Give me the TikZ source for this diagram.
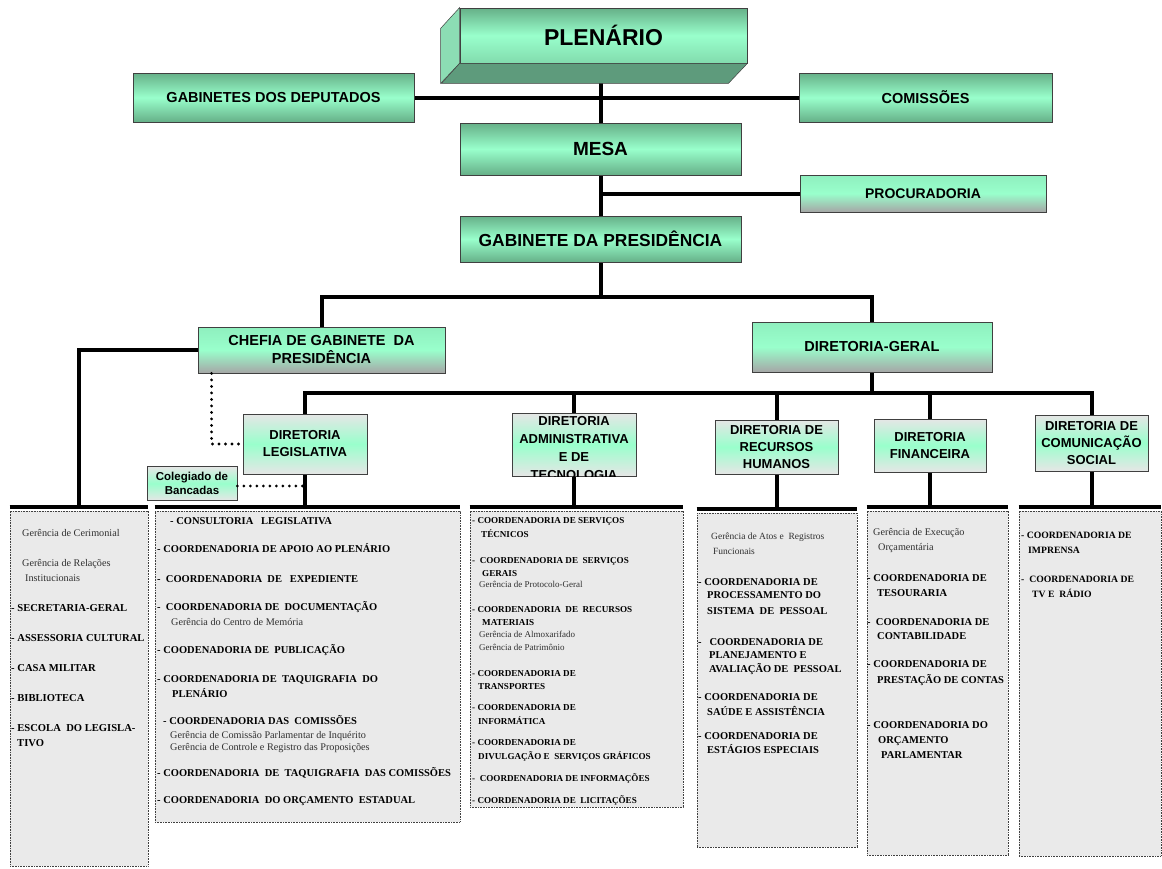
\documentclass[tikz,border=0pt]{standalone}
\usepackage{fontspec}
\setmainfont{Liberation Serif}
\newfontfamily\arialf{Liberation Sans}
\usetikzlibrary{calc}
\pgfdeclarelayer{bg}
\pgfsetlayers{bg,main}
\definecolor{mint}{HTML}{99FFCC}
\definecolor{gdark}{HTML}{66B088}
\definecolor{colfill}{HTML}{EAEAEA}
\definecolor{plside}{HTML}{8CDDB4}
\definecolor{plbot}{HTML}{5E9B7C}
\definecolor{gry}{HTML}{A6A6A6}
\definecolor{lgry}{HTML}{E6E6E6}
\definecolor{edge}{HTML}{404040}
\definecolor{smtext}{HTML}{303030}
\tikzset{
  conn/.style={line width=4pt, black},
  dotconn/.style={line width=3.1pt, line cap=round, dash pattern=on 0pt off 6.5pt},
  bf/.style 2 args={font=\arialf\bfseries\fontsize{#1}{#2}\selectfont},
  gbox/.style={draw=edge, line width=0.8pt, top color=gdark, bottom color=gdark, middle color=mint, inner sep=0pt, align=center},
  gybox/.style={draw=edge, line width=0.8pt, top color=mint!80!gdark, bottom color=gry, middle color=mint, inner sep=0pt, align=center},
  dbox/.style={draw=edge, line width=0.8pt, top color=lgry, bottom color=lgry, middle color=mint, inner sep=0pt, align=center},
  colbox/.style={draw=black!75, line width=0.7pt, dash pattern=on 0.8pt off 0.8pt, fill=colfill, inner sep=0pt},
  lb/.style={anchor=base west, inner sep=0pt, yshift=-3.5pt, font=\bfseries\fontsize{10.5}{12}\selectfont},
  lbC/.style={anchor=base west, inner sep=0pt, yshift=-3.3pt, font=\bfseries\fontsize{9.7}{12}\selectfont},
  lbL/.style={anchor=base west, inner sep=0pt, yshift=-3.5pt, font=\bfseries\fontsize{10.6}{12}\selectfont},
  ls/.style={anchor=base west, inner sep=0pt, yshift=-3.2pt, text=smtext, font=\fontsize{10.2}{12}\selectfont},
  lsR/.style={ls, font=\fontsize{9.5}{12}\selectfont},
  lbA/.style={anchor=base west, inner sep=0pt, yshift=-3.1pt, font=\bfseries\fontsize{9.1}{10}\selectfont},
  lsA/.style={anchor=base west, inner sep=0pt, yshift=-2.9pt, text=smtext, font=\fontsize{9}{10}\selectfont},
}
\begin{document}
\begin{tikzpicture}[x=1pt,y=-1pt]
\useasboundingbox (0,0) rectangle (1162,868);

% ---- top boxes
\node[gbox, top color=gdark, bottom color=gdark!45!mint, middle color=mint, minimum width=287pt, minimum height=55pt, bf={23}{26}] (plen) at (603.5,35.5) {PLENÁRIO};
\fill[plside, draw=edge, line width=0.5pt] (plen.north west) -- (plen.south west) -- ++(-19,20) -- ++(0,-55) -- cycle;
\fill[plbot, draw=edge, line width=0.5pt] (plen.south west) -- (plen.south east) -- ++(-19,20) -- ++(-287,0) -- cycle;

\node[gbox, minimum width=281pt, minimum height=49pt, bf={14.5}{17}] (gab) at (273.5,97.5) {GABINETES DOS DEPUTADOS};
\node[gbox, minimum width=253pt, minimum height=49pt, bf={14.5}{17}] (com) at (925.5,97.5) {COMISSÕES};
\node[gbox, minimum width=281pt, minimum height=52pt, bf={19}{22}] (mesa) at (600.5,149) {MESA};
\node[gybox, minimum width=246pt, minimum height=37pt, bf={14}{17}] (proc) at (923,193.5) {PROCURADORIA};
\node[gbox, minimum width=281pt, minimum height=46pt, bf={17.4}{20}] (gp) at (600.5,239) {GABINETE DA PRESIDÊNCIA};

\node[gybox, minimum width=247pt, minimum height=46pt, bf={14.5}{18}] (chefia) at (321.5,350) {CHEFIA DE GABINETE\ \ DA\\PRESIDÊNCIA};
\node[gybox, minimum width=240pt, minimum height=50pt, bf={14.5}{17}] (dg) at (872,347) {DIRETORIA-GERAL};

% ---- directorates
\node[dbox, minimum width=124pt, minimum height=60pt, bf={13}{17}] (dl) at (305,444) {DIRETORIA\\LEGISLATIVA};
\node[dbox, minimum width=124pt, minimum height=63pt] (da) at (574,444.5) {};
\begin{scope}
  \clip (da.north west) rectangle (da.south east);
  \node[inner sep=0pt, align=center, bf={13}{18}] (dat) at (574,448.5) {DIRETORIA\\ADMINISTRATIVA\\E DE\\TECNOLOGIA};
\end{scope}
\node[dbox, minimum width=123pt, minimum height=54pt, bf={13}{17}] (rh) at (776.5,447) {DIRETORIA DE\\RECURSOS\\HUMANOS};
\node[dbox, minimum width=112pt, minimum height=53pt, bf={13}{17}] (df) at (930,445.5) {DIRETORIA\\FINANCEIRA};
\node[dbox, minimum width=113pt, minimum height=56pt, bf={13}{17}] (dcs) at (1091.5,443) {DIRETORIA DE\\COMUNICAÇÃO\\SOCIAL};
\node[dbox, minimum width=90pt, minimum height=34pt, bf={11.5}{14}] (colg) at (192,483.5) {Colegiado de\\Bancadas};

% ---- columns
\node[colbox, minimum width=138pt, minimum height=355pt] (lc) at (79,688.5) {};
\node[colbox, minimum width=305pt, minimum height=311pt] (dlc) at (307.5,666.5) {};
\node[colbox, minimum width=213pt, minimum height=296pt] (dac) at (576.5,659) {};
\node[colbox, minimum width=160pt, minimum height=334pt] (rhc) at (777,680) {};
\node[colbox, minimum width=141pt, minimum height=344pt] (dfc) at (937.5,683) {};
\node[colbox, minimum width=142pt, minimum height=345pt] (dcsc) at (1090,683.5) {};

% ---- connectors
\begin{pgfonlayer}{bg}
\draw[conn] (mesa.north) -- (mesa.north |- plen.south);
\draw[conn] (gab.east) -- (com.west);
\draw[conn] (mesa.south) -- (gp.north);
\draw[conn] (proc.west) -- (proc.west -| mesa.south);
\coordinate (bus1) at (600.5,297);
\draw[conn] (gp.south) -- (bus1);
\draw[conn] (chefia.north) |- (bus1) -| (dg.north);
\coordinate (bus2) at (872,393);
\draw[conn] (dg.south) -- (bus2);
\draw[conn] (dl.north) |- (bus2) -| (dcs.north);
\draw[conn] (da.north) -- (da.north |- bus2);
\draw[conn] (rh.north) -- (rh.north |- bus2);
\draw[conn] (df.north) -- (df.north |- bus2);
\draw[conn] (chefia.west) -| ([yshift=4pt]lc.north);
\draw[conn] (dl.south) -- ([yshift=4pt]dl.south |- dlc.north);
\draw[conn] (da.south) -- ([yshift=4pt]da.south |- dac.north);
\draw[conn] (rh.south) -- ([yshift=4pt]rh.south |- rhc.north);
\draw[conn] (df.south) -- ([yshift=4pt]df.south |- dfc.north);
\draw[conn] (dcs.south) -- ([yshift=4pt]dcs.south |- dcsc.north);
\end{pgfonlayer}
\foreach \c in {lc,dlc,dac,rhc,dfc,dcsc}{
  \draw[conn] ([yshift=4pt]\c.north west) -- ([yshift=4pt]\c.north east);
}
\draw[dotconn] ([xshift=14pt]chefia.south west) |- (dl.west);
\draw[dotconn] ([yshift=-2.5pt]colg.east) -- ([yshift=-2.5pt]colg.east -| dl.south);

% ---- left column
\node[ls] (l1) at (22,533) {Gerência de Cerimonial};
\node[ls] (l2) at (22,563) {Gerência de Relações};
\node[ls] (l3) at (25,578) {Institucionais};
\node[lbL] (l4) at (11,608) {- SECRETARIA-GERAL};
\node[lbL] (l5) at (11,638) {- ASSESSORIA CULTURAL};
\node[lbL] (l6) at (11,668) {- CASA MILITAR};
\node[lbL] (l7) at (11,698) {- BIBLIOTECA};
\node[lbL] (l8) at (11,728) {- ESCOLA\ \ DO LEGISLA-};
\node[lbL] (l9) at (17,743) {TIVO};

% ---- legislative column
\node[lb] (m1) at (170,521) {- CONSULTORIA\ \ \ LEGISLATIVA};
\node[lb] (m2) at (157,549) {- COORDENADORIA DE APOIO AO PLENÁRIO};
\node[lb] (m3) at (157,579) {-\ \ COORDENADORIA\ \ DE\ \ \ EXPEDIENTE};
\node[lb] (m4) at (157,607) {-\ \ COORDENADORIA DE\ \ DOCUMENTAÇÃO};
\node[ls] (m5) at (171,622) {Gerência do Centro de Memória};
\node[lb] (m6) at (157,650) {- COODENADORIA DE\ \ PUBLICAÇÃO};
\node[lb] (m7) at (157,679) {- COORDENADORIA DE\ \ TAQUIGRAFIA\ \ DO};
\node[lb] (m8) at (172,694) {PLENÁRIO};
\node[lb] (m9) at (163,721) {- COORDENADORIA DAS\ \ COMISSÕES};
\node[ls] (m10) at (170,735) {Gerência de Comissão Parlamentar de Inquérito};
\node[ls] (m11) at (170,747) {Gerência de Controle e Registro das Proposições};
\node[lb] (m12) at (157,773) {- COORDENADORIA\ \ DE\ \ TAQUIGRAFIA\ \ DAS COMISSÕES};
\node[lb] (m13) at (157,800) {- COORDENADORIA\ \ DO ORÇAMENTO\ \ ESTADUAL};

% ---- administrative column
\node[lbA] (a1) at (472,520) {- COORDENADORIA DE SERVIÇOS};
\node[lbA] (a2) at (481,534) {TÉCNICOS};
\node[lbA] (a3) at (472,560) {-\ \ COORDENADORIA DE\ \ SERVIÇOS};
\node[lbA] (a4) at (482,573) {GERAIS};
\node[lsA] (a5) at (479,585) {Gerência de Protocolo-Geral};
\node[lbA] (a6) at (472,609) {- COORDENADORIA\ \ DE\ \ RECURSOS};
\node[lbA] (a7) at (482,622) {MATERIAIS};
\node[lsA] (a8) at (479,635) {Gerência de Almoxarifado};
\node[lsA] (a9) at (479,648) {Gerência de Patrimônio};
\node[lbA] (a10) at (472,673) {- COORDENADORIA DE};
\node[lbA] (a11) at (478,686) {TRANSPORTES};
\node[lbA] (a12) at (472,707) {- COORDENADORIA DE};
\node[lbA] (a13) at (478,721) {INFORMÁTICA};
\node[lbA] (a14) at (472,742) {- COORDENADORIA DE};
\node[lbA] (a15) at (478,756) {DIVULGAÇÃO E\ \ SERVIÇOS GRÁFICOS};
\node[lbA] (a16) at (472,778) {-\ \ COORDENADORIA DE INFORMAÇÕES};
\node[lbA] (a17) at (472,800) {- COORDENADORIA DE\ \ LICITAÇÕES};

% ---- human resources column
\node[lsR] (r1) at (711,536) {Gerência de Atos e\ \ Registros};
\node[lsR] (r2) at (713,551) {Funcionais};
\node[lb] (r3) at (698,582) {- COORDENADORIA DE};
\node[lb] (r4) at (707,595) {PROCESSAMENTO DO};
\node[lb] (r5) at (707,611) {SISTEMA\ \ DE\ \ PESSOAL};
\node[lb] (r6) at (698,642) {-\ \ \ COORDENADORIA DE};
\node[lb] (r7) at (709,655) {PLANEJAMENTO E};
\node[lb] (r8) at (709,669) {AVALIAÇÃO DE\ \ PESSOAL};
\node[lb] (r9) at (698,697) {- COORDENADORIA DE};
\node[lb] (r10) at (707,712) {SAÚDE E ASSISTÊNCIA};
\node[lb] (r11) at (698,736) {- COORDENADORIA DE};
\node[lb] (r12) at (707,750) {ESTÁGIOS ESPECIAIS};

% ---- financial column
\node[ls] (f1) at (873,532) {Gerência de Execução};
\node[ls] (f2) at (878,547) {Orçamentária};
\node[lb] (f3) at (867,578) {- COORDENADORIA DE};
\node[lb] (f4) at (877,593) {TESOURARIA};
\node[lb] (f5) at (867,622) {-\ \ COORDENADORIA DE};
\node[lb] (f6) at (877,636) {CONTABILIDADE};
\node[lb] (f7) at (867,664) {- COORDENADORIA DE};
\node[lb] (f8) at (877,680) {PRESTAÇÃO DE CONTAS};
\node[lb] (f9) at (867,725) {- COORDENADORIA DO};
\node[lb] (f10) at (878,740) {ORÇAMENTO};
\node[lb] (f11) at (881,755) {PARLAMENTAR};

% ---- communication column
\node[lbC] (c1) at (1021,535) {- COORDENADORIA DE};
\node[lbC] (c2) at (1028,550) {IMPRENSA};
\node[lbC] (c3) at (1021,579) {-\ \ COORDENADORIA DE};
\node[lbC] (c4) at (1032,594) {TV E\ \ RÁDIO};
\end{tikzpicture}
\end{document}
